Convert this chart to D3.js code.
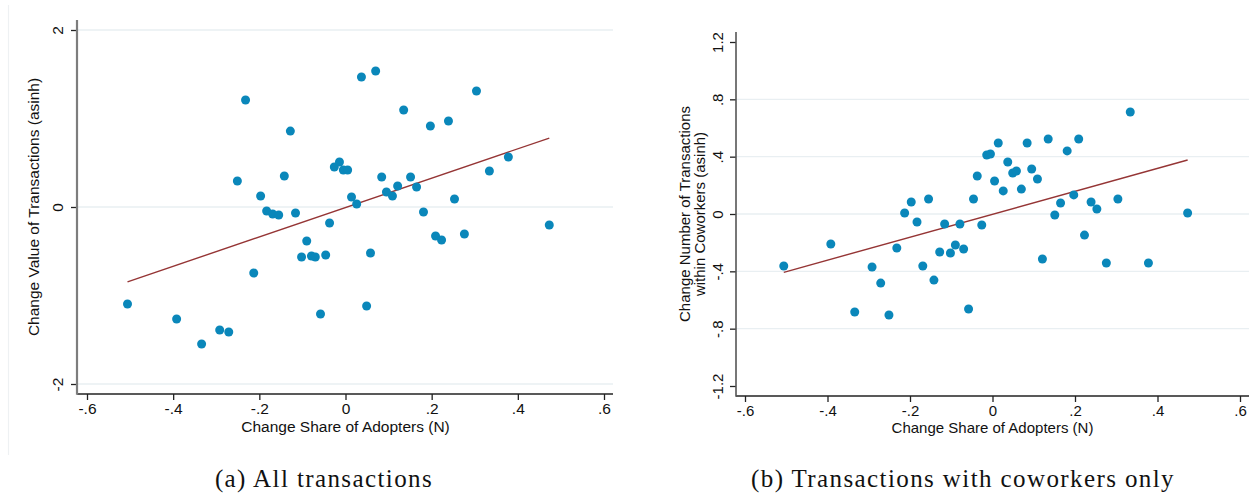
<!DOCTYPE html>
<html>
<head>
<meta charset="utf-8">
<script src="https://cdn.jsdelivr.net/npm/d3@7/dist/d3.min.js"></script>
<style>
  html, body { margin: 0; padding: 0; background: #ffffff; }
  svg { display: block; }
</style>
</head>
<body>
<svg id="chart" width="1255" height="496"></svg>
<script>
// ---------- DATA ----------
const shareChange = [
  -0.506, -0.392, -0.334, -0.292, -0.271, -0.251, -0.232, -0.213, -0.197, -0.183,
  -0.169, -0.155, -0.142, -0.128, -0.116, -0.102, -0.090, -0.079, -0.070, -0.058,
  -0.046, -0.037, -0.026, -0.014, -0.005, 0.005, 0.014, 0.026, 0.037, 0.049,
  0.058, 0.070, 0.084, 0.095, 0.109, 0.121, 0.135, 0.151, 0.165, 0.181,
  0.197, 0.209, 0.223, 0.239, 0.253, 0.276, 0.304, 0.334, 0.378, 0.473
];
const valueAll = [
  -1.096, -1.266, -1.548, -1.390, -1.412, 0.294, 1.209, -0.746, 0.124, -0.045,
  -0.079, -0.090, 0.350, 0.858, -0.068, -0.565, -0.384, -0.554, -0.565, -1.209,
  -0.542, -0.181, 0.452, 0.508, 0.418, 0.418, 0.113, 0.034, 1.469, -1.119,
  -0.520, 1.537, 0.339, 0.169, 0.124, 0.237, 1.096, 0.339, 0.226, -0.056,
  0.915, -0.328, -0.373, 0.972, 0.090, -0.305, 1.311, 0.407, 0.565, -0.203
];
const numberCoworkers = [
  -0.363, -0.209, -0.684, -0.370, -0.482, -0.705, -0.237, 0.007, 0.084, -0.056,
  -0.363, 0.105, -0.461, -0.265, -0.070, -0.272, -0.216, -0.070, -0.244, -0.663,
  0.105, 0.265, -0.077, 0.412, 0.419, 0.230, 0.495, 0.161, 0.363, 0.286,
  0.300, 0.174, 0.495, 0.314, 0.244, -0.314, 0.523, -0.007, 0.077, 0.440,
  0.133, 0.523, -0.147, 0.084, 0.035, -0.342, 0.105, 0.712, -0.342, 0.007
];
// linear fit lines: [intercept, slope]
const fitAll = [-0.006, 1.66];
const fitCoworkers = [-0.002, 0.80];

const xTickValues = [-0.6, -0.4, -0.2, 0, 0.2, 0.4, 0.6];
const xTickLabels = ["-.6", "-.4", "-.2", "0", ".2", ".4", ".6"];
const yTickValuesA = [-2, 0, 2];
const yTickLabelsA = ["-2", "0", "2"];
const yTickValuesB = [-1.2, -0.8, -0.4, 0, 0.4, 0.8, 1.2];
const yTickLabelsB = ["-1.2", "-.8", "-.4", "0", ".4", ".8", "1.2"];
const gridValuesA = [-2, 0, 2];
const gridValuesB = [-0.8, -0.4, 0, 0.4, 0.8];

const xTitle = "Change Share of Adopters (N)";
const yTitleA = ["Change Value of Transactions (asinh)"];
const yTitleB = ["Change Number of Transactions", "within Coworkers (asinh)"];
const captionA = "(a) All transactions";
const captionB = "(b) Transactions with coworkers only";

// ---------- LAYOUT ----------
const svg = d3.select("#chart");
const DOT = "#0a87ba";
const FIT = "#953535";
const GRID = "#e9eff2";
const FONT = "'Liberation Sans', Arial, Helvetica, sans-serif";

// faint graph-region edge at far left
svg.append("line").attr("x1", 8.5).attr("x2", 8.5).attr("y1", 5).attr("y2", 455)
  .attr("stroke", "#eef1f3").attr("stroke-width", 1.2);

function panel(cfg) {
  const x = d3.scaleLinear().domain([-0.6, 0.6]).range(cfg.xRange);
  const y = d3.scaleLinear().domain(cfg.yDomain).range(cfg.yRange);
  const g = svg.append("g");

  // gridlines
  g.append("g").selectAll("line").data(cfg.grid).join("line")
    .attr("x1", cfg.left).attr("x2", cfg.right)
    .attr("y1", d => y(d)).attr("y2", d => y(d))
    .attr("stroke", GRID).attr("stroke-width", 1.3);

  // x axis
  const xa = g.append("g").attr("transform", `translate(0,${cfg.bottom})`)
    .call(d3.axisBottom(x).tickValues(xTickValues)
      .tickFormat((d, i) => xTickLabels[i]).tickSize(6).tickPadding(3));
  xa.select(".domain").remove();
  xa.selectAll(".tick line").attr("stroke", "#222").attr("stroke-width", 1.3);
  xa.selectAll(".tick text").attr("font-family", FONT).attr("font-size", cfg.fs)
    .attr("fill", "#111");
  g.append("line").attr("x1", cfg.left).attr("x2", cfg.right)
    .attr("y1", cfg.bottom).attr("y2", cfg.bottom)
    .attr("stroke", "#222").attr("stroke-width", 1.5);

  // y axis
  const ya = g.append("g").attr("transform", `translate(${cfg.left},0)`)
    .call(d3.axisLeft(y).tickValues(cfg.yTicks)
      .tickFormat((d, i) => cfg.yLabels[i]).tickSize(6).tickPadding(0));
  ya.select(".domain").remove();
  ya.selectAll(".tick line").attr("stroke", "#222").attr("stroke-width", 1.3);
  ya.selectAll(".tick text")
    .attr("font-family", FONT).attr("font-size", cfg.fs).attr("fill", "#111")
    .attr("text-anchor", "middle").attr("dy", 0).attr("x", 0)
    .attr("transform", `translate(${cfg.yLabelX - cfg.left},0) rotate(-90)`);
  g.append("line").attr("x1", cfg.left).attr("x2", cfg.left)
    .attr("y1", cfg.top).attr("y2", cfg.bottom + 0.75)
    .attr("stroke", cfg.yAxisColor).attr("stroke-width", cfg.yAxisWidth);

  // fit line
  const xs = d3.extent(shareChange);
  g.append("line")
    .attr("x1", x(xs[0])).attr("y1", y(cfg.fit[0] + cfg.fit[1] * xs[0]))
    .attr("x2", x(xs[1])).attr("y2", y(cfg.fit[0] + cfg.fit[1] * xs[1]))
    .attr("stroke", FIT).attr("stroke-width", 1.4);

  // points
  g.append("g").selectAll("circle").data(shareChange.map((v, i) => [v, cfg.values[i]]))
    .join("circle")
    .attr("cx", d => x(d[0])).attr("cy", d => y(d[1])).attr("r", 4.5)
    .attr("fill", DOT);

  // x title
  g.append("text").attr("x", x(0)).attr("y", cfg.xTitleY)
    .attr("text-anchor", "middle").attr("font-family", FONT)
    .attr("font-size", cfg.fs).attr("fill", "#111").text(xTitle);

  // y title
  const yt = g.append("text")
    .attr("transform", `translate(${cfg.yTitleX},${cfg.yTitleMid}) rotate(-90)`)
    .attr("text-anchor", "middle").attr("font-family", FONT)
    .attr("font-size", cfg.fs).attr("fill", "#111");
  cfg.yTitle.forEach((t, i) => {
    yt.append("tspan").attr("x", 0).attr("y", i * cfg.yTitleGap).text(t);
  });

  // caption
  svg.append("text").attr("x", cfg.capX).attr("y", 487)
    .attr("text-anchor", "middle")
    .attr("font-family", "'Liberation Serif', 'Times New Roman', serif")
    .attr("font-size", 25).attr("letter-spacing", 1.4).attr("fill", "#111")
    .text(cfg.caption);
}

panel({
  xRange: [87, 604], yDomain: [-2, 2], yRange: [384, 30],
  left: 77, right: 613, top: 20, bottom: 394,
  grid: gridValuesA, yTicks: yTickValuesA, yLabels: yTickLabelsA,
  yLabelX: 63, fs: 15.5, yAxisColor: "#7d7d7d", yAxisWidth: 2.2,
  values: valueAll, fit: fitAll,
  xTitleY: 432, yTitle: yTitleA, yTitleX: 39, yTitleMid: 207, yTitleGap: 15,
  caption: captionA, capX: 324
});

panel({
  xRange: [745, 1240], yDomain: [-1.2, 1.2], yRange: [386, 42],
  left: 736, right: 1249, top: 32, bottom: 396,
  grid: gridValuesB, yTicks: yTickValuesB, yLabels: yTickLabelsB,
  yLabelX: 723, fs: 15, yAxisColor: "#555", yAxisWidth: 1.6,
  values: numberCoworkers, fit: fitCoworkers,
  xTitleY: 433, yTitle: yTitleB, yTitleX: 690, yTitleMid: 214, yTitleGap: 15,
  caption: captionB, capX: 963
});
</script>
</body>
</html>
